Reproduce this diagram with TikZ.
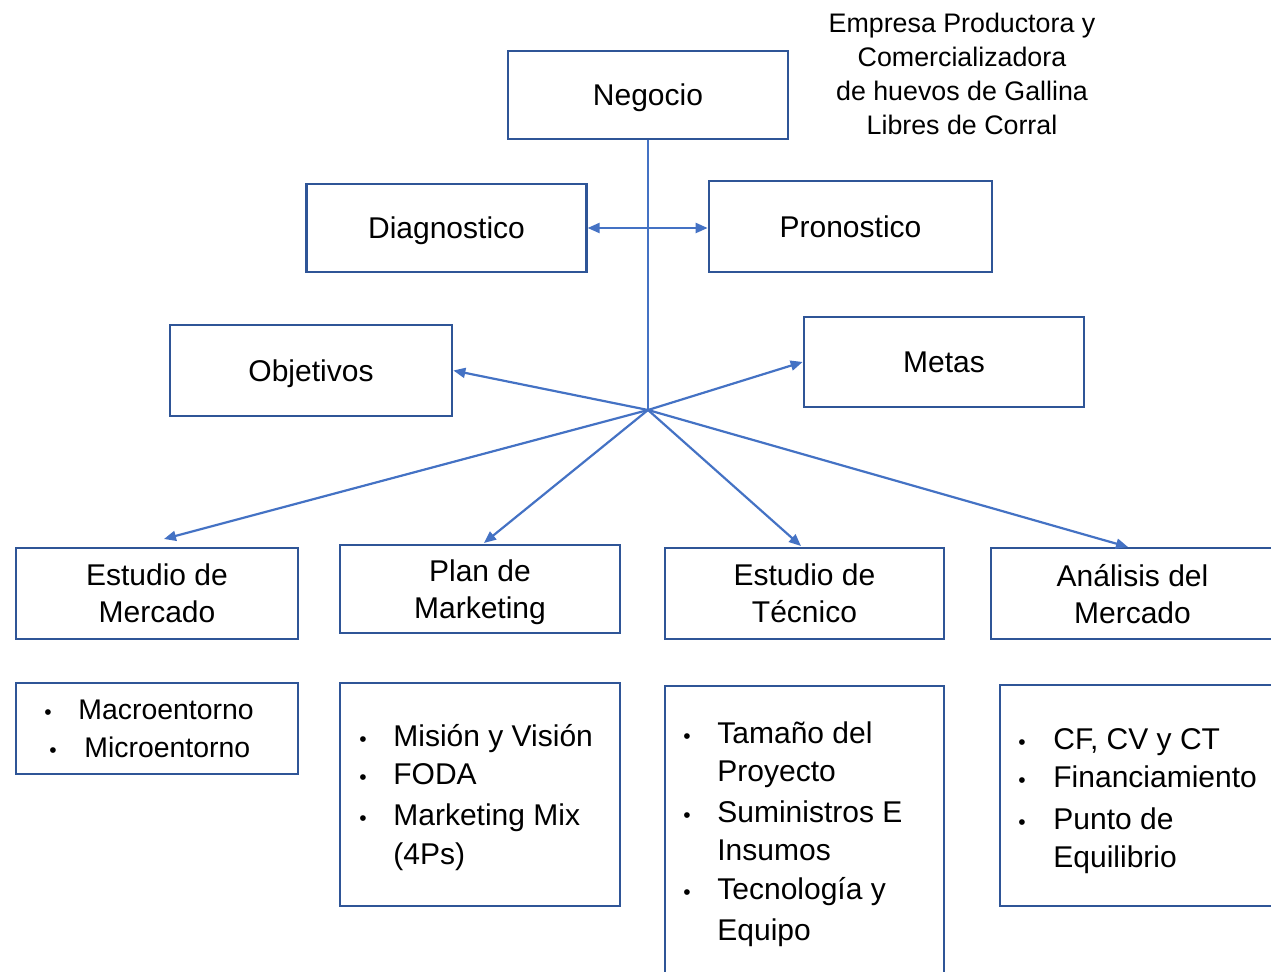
\documentclass[tikz,border=0pt]{standalone}
\usepackage{fontspec}
\setmainfont{Liberation Sans}
\usetikzlibrary{arrows.meta,calc}
\definecolor{boxc}{HTML}{2F5597}
\definecolor{linec}{HTML}{4472C4}
\begin{document}
\begin{tikzpicture}[x=0.5pt,y=-0.5pt,
 box/.style={draw=boxc,line width=1.35pt,rectangle,inner sep=0pt,align=center,text depth=0pt,font=\fontsize{15}{18.5}\selectfont},
 conn/.style={draw=linec,line width=1.1pt},
 arr/.style={conn,-{Triangle[length=6pt,width=5pt]}},
 item/.style={anchor=base west,inner sep=0pt,font=\fontsize{15}{18}\selectfont},
 sitem/.style={item,font=\fontsize{14.2}{18}\selectfont},
 bul/.style={anchor=base,inner sep=0pt,font=\fontsize{10.5}{12}\selectfont},
 note/.style={align=center,inner sep=0pt,font=\fontsize{13.4}{17}\selectfont}]
\path[use as bounding box] (0,0) rectangle (1271,972);
\clip (0,0) rectangle (1271,972);

% top note
\node[note] (note) at (962,74) {Empresa Productora y\\Comercializadora\\de huevos de Gallina\\Libres de Corral};

% main boxes
\node[box,minimum width=140pt,minimum height=44pt] (neg) at (648,95) {Negocio};
\node[box,minimum width=139.75pt,minimum height=44pt] (diag) at (446.5,228) {Diagnostico};
\node[box,minimum width=141.5pt,minimum height=45.5pt] (pron) at (850.5,226.5) {Pronostico};
\node[box,minimum width=141pt,minimum height=45.5pt] (obj) at (311,370.5) {Objetivos};
\node[box,minimum width=140pt,minimum height=45pt] (metas) at (944,362) {Metas};
\node[box,minimum width=141pt,minimum height=45.5pt] (em) at (157,593.5) {Estudio de\\Mercado};
\node[box,minimum width=140pt,minimum height=44pt] (pm) at (480,589) {Plan de\\Marketing};
\node[box,minimum width=139.5pt,minimum height=45.5pt] (et) at (804.5,593.5) {Estudio de\\Técnico};
\node[box,minimum width=141.5pt,minimum height=45.5pt] (am) at (1132.5,593.5) {Análisis del\\Mercado};

% detail boxes
\node[box,minimum width=141pt,minimum height=45.5pt] (dmacro) at (157,728.5) {};
\node[box,minimum width=140pt,minimum height=111.5pt] (dmision) at (480,794.5) {};
\node[box,minimum width=139.5pt,minimum height=144.5pt] (dtam) at (804.5,830.5) {};
\node[box,minimum width=137.5pt,minimum height=110.5pt] (dcf) at (1137.5,795.5) {};

% connectors
\coordinate (hub) at (648,410);
\coordinate (hz) at (648,228);
\coordinate (emT) at (164,539);
\coordinate (pmT) at (484,543);
\coordinate (etT) at (801,546);
\coordinate (amT) at (1128,547);
\draw[conn] (neg.south) -- (hub);
\draw[arr] (hz) -- (hz -| diag.east);
\draw[arr] (hz) -- (hz -| pron.west);
\draw[arr] (hub) -- (obj.east);
\draw[arr] (hub) -- (metas.west);
\draw[arr] (hub) -- (emT);
\draw[arr] (hub) -- (pmT);
\draw[arr] (hub) -- (etT);
\draw[arr] (hub) -- (amT);

% Macro list
\node[bul] (b11) at (48,720) {•};
\node[sitem] (t11) at (78,720) {Macroentorno};
\node[bul] (b12) at (53,758) {•};
\node[sitem] (t12) at (84,758) {Microentorno};

% Mision list
\node[bul] (b21) at (363,747) {•};
\node[item] (t21) at (393,747) {Misión y Visión};
\node[bul] (b22) at (363,785) {•};
\node[item] (t22) at (393,785) {FODA};
\node[bul] (b23) at (363,826) {•};
\node[item] (t23) at (393,826) {Marketing Mix};
\node[item] (t24) at (393,865) {(4Ps)};

% Tamano list
\node[bul] (b31) at (687,744) {•};
\node[item] (t31) at (717,744) {Tamaño del};
\node[item] (t32) at (717,782) {Proyecto};
\node[bul] (b33) at (687,823) {•};
\node[item] (t33) at (717,823) {Suministros E};
\node[item] (t34) at (717,861) {Insumos};
\node[bul] (b35) at (687,900) {•};
\node[item] (t35) at (717,900) {Tecnología y};
\node[item] (t36) at (717,941) {Equipo};

% CF list
\node[bul] (b41) at (1022,750) {•};
\node[item] (t41) at (1053,750) {CF, CV y CT};
\node[bul] (b42) at (1022,788) {•};
\node[item] (t42) at (1053,788) {Financiamiento};
\node[bul] (b43) at (1022,830) {•};
\node[item] (t43) at (1053,830) {Punto de};
\node[item] (t44) at (1053,868) {Equilibrio};
\end{tikzpicture}
\end{document}
